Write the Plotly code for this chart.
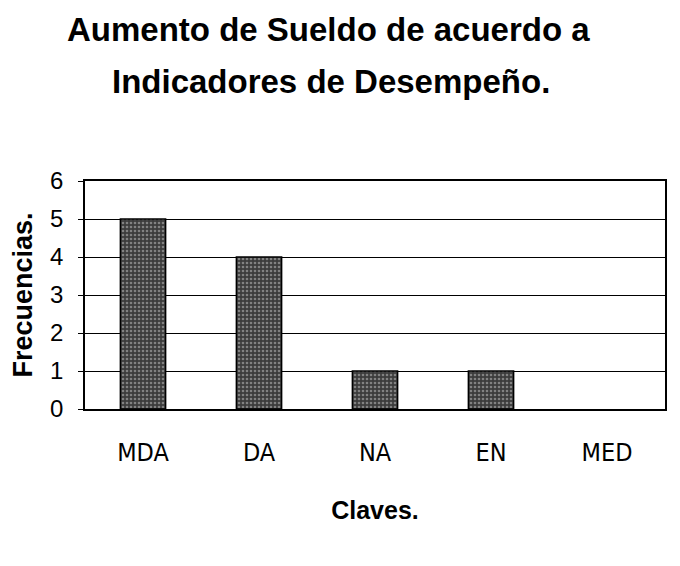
import plotly.graph_objects as go

categories = ["MDA", "DA", "NA", "EN", "MED"]
frecuencias = [5, 4, 1, 1, 0]
y_ticks = [0, 1, 2, 3, 4, 5, 6]

title_line1 = "Aumento de Sueldo de acuerdo a"
title_line2 = "Indicadores de Desempeño."

fig = go.Figure()
fig.add_trace(go.Bar(
    x=categories,
    y=frecuencias,
    marker=dict(
        color="#3c3c3c",
        line=dict(color="black", width=[1.5 if v > 0 else 0 for v in frecuencias]),
        pattern=dict(shape=".", fgcolor="#c8c8c8", size=4, solidity=0.35),
    ),
    width=0.39,
    showlegend=False,
))

PLOT_TOP = 180
PLOT_LEFT = 84
TITLE_FONT = dict(size=33, family="Liberation Sans, Arial, sans-serif", weight="bold", color="black")

fig.update_layout(
    width=680,
    height=566,
    paper_bgcolor="white",
    plot_bgcolor="white",
    margin=dict(l=77, r=23, t=173, b=165),
    font=dict(family="Liberation Sans, Arial, sans-serif", color="black"),
    annotations=[
        dict(text=title_line1, xref="paper", yref="paper", x=(327.5 - PLOT_LEFT) / 580, y=1 + (PLOT_TOP - 28) / 228,
             xanchor="center", yanchor="middle", showarrow=False, font=TITLE_FONT),
        dict(text=title_line2, xref="paper", yref="paper", x=(330 - PLOT_LEFT) / 580, y=1 + (PLOT_TOP - 80) / 228,
             xanchor="center", yanchor="middle", showarrow=False, font=TITLE_FONT),
    ],
)

fig.update_xaxes(
    type="category",
    showline=True, linecolor="black", linewidth=2, mirror=True,
    showgrid=False,
    ticks="", ticklabelstandoff=20,
    tickfont=dict(size=25, family="DejaVu Sans Condensed, Liberation Sans, sans-serif"),
    title=dict(text="Claves.", standoff=35,
               font=dict(size=25, weight="bold", family="Liberation Sans, Arial, sans-serif")),
)
fig.update_yaxes(
    range=[0, 6],
    tickvals=y_ticks,
    showline=True, linecolor="black", linewidth=1.5, mirror=True,
    showgrid=True, gridcolor="black", gridwidth=1,
    ticks="outside", ticklen=5, tickcolor="black",
    ticklabelstandoff=10,
    tickfont=dict(size=24),
    zeroline=False,
    title=dict(text="Frecuencias.", standoff=12,
               font=dict(size=27, weight="bold", family="Liberation Sans, Arial, sans-serif")),
)

fig.write_html("out.html")
